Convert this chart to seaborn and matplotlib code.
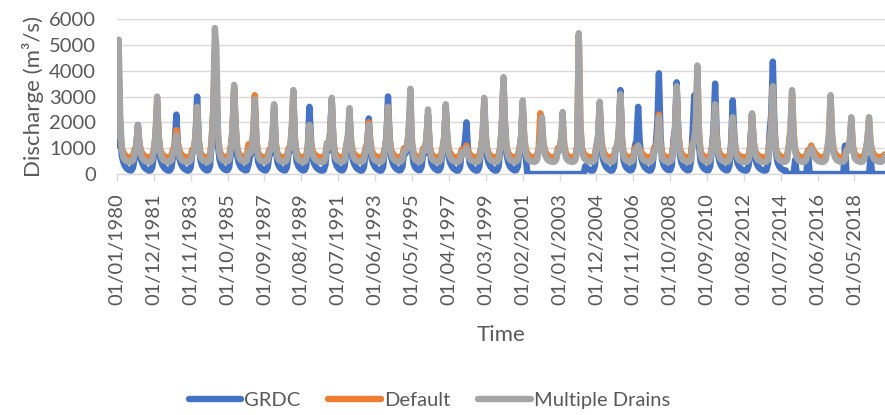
import matplotlib
matplotlib.use("Agg")
import matplotlib.pyplot as plt
import matplotlib.dates as mdates
from matplotlib.lines import Line2D
import numpy as np
import pandas as pd
import seaborn as sns

# Monthly discharge (m3/s), one row per year 1980-2019, Jan..Dec
start_year = 1980
series_names = ["GRDC", "Default", "Multiple Drains"]
series_colors = ["#4472C4", "#ED7D31", "#A5A5A5"]

grdc = [
    [1100, 3700, 1800, 700, 450, 300, 220, 170, 140, 140, 250, 600],
    [1000, 1900, 1100, 550, 380, 260, 200, 160, 130, 140, 260, 700],
    [1300, 2600, 1300, 600, 400, 280, 210, 160, 130, 140, 250, 700],
    [1200, 2300, 1200, 580, 390, 270, 200, 160, 130, 140, 260, 800],
    [900, 1500, 3000, 1300, 550, 330, 230, 170, 140, 150, 300, 1200],
    [2300, 4200, 3200, 1100, 550, 340, 240, 180, 150, 150, 270, 800],
    [1500, 3300, 1700, 700, 430, 290, 210, 170, 140, 150, 350, 700],
    [800, 1400, 2600, 1100, 480, 310, 220, 170, 140, 140, 260, 700],
    [800, 1400, 2650, 1100, 470, 300, 220, 170, 140, 140, 270, 800],
    [900, 1600, 3000, 1200, 500, 320, 230, 170, 140, 150, 280, 1000],
    [2600, 1300, 600, 400, 280, 210, 170, 140, 130, 150, 350, 1100],
    [900, 1600, 2900, 1200, 500, 320, 230, 170, 140, 150, 290, 900],
    [1200, 2300, 1100, 550, 380, 270, 200, 160, 130, 140, 270, 800],
    [1100, 2150, 1100, 550, 380, 270, 200, 160, 130, 140, 270, 900],
    [1400, 3000, 1500, 650, 420, 290, 210, 170, 140, 150, 280, 800],
    [800, 1000, 1600, 2200, 900, 400, 260, 190, 150, 150, 280, 800],
    [800, 1300, 2300, 1000, 450, 300, 220, 170, 140, 150, 280, 900],
    [1300, 2600, 1300, 600, 400, 280, 210, 160, 130, 140, 280, 900],
    [900, 1300, 2000, 900, 420, 290, 210, 160, 130, 140, 280, 900],
    [1400, 2700, 1300, 600, 400, 280, 210, 160, 130, 140, 280, 900],
    [1800, 3600, 1800, 750, 450, 300, 220, 170, 140, 150, 300, 900],
    [1400, 2700, 1300, 600, 0, 0, 0, 0, 0, 0, 0, 0],
    [0, 0, 0, 0, 0, 0, 0, 0, 0, 0, 0, 0],
    [0, 0, 0, 0, 0, 0, 0, 0, 0, 0, 0, 0],
    [0, 0, 0, 0, 300, 240, 190, 150, 130, 140, 300, 900],
    [1400, 2700, 1300, 600, 400, 280, 210, 160, 130, 140, 280, 1000],
    [1000, 1700, 3250, 1300, 520, 320, 230, 170, 140, 150, 300, 1100],
    [1300, 2600, 1300, 600, 400, 280, 210, 160, 130, 140, 300, 1000],
    [1100, 2000, 3900, 1500, 560, 340, 240, 180, 150, 150, 320, 1300],
    [1800, 3550, 1800, 750, 450, 300, 220, 170, 140, 160, 500, 1600],
    [3050, 1800, 2600, 1100, 480, 310, 220, 170, 140, 150, 300, 1000],
    [1700, 3500, 1700, 700, 440, 300, 220, 170, 140, 150, 320, 1200],
    [2850, 1500, 700, 420, 290, 210, 170, 140, 130, 150, 350, 1200],
    [2300, 1200, 600, 400, 280, 210, 170, 140, 130, 150, 400, 1600],
    [2300, 4350, 2000, 800, 450, 300, 220, 170, 140, 140, 0, 0],
    [0, 0, 0, 550, 0, 0, 0, 0, 0, 0, 0, 900],
    [0, 0, 0, 0, 0, 0, 0, 0, 0, 0, 0, 0],
    [0, 0, 0, 0, 0, 0, 0, 0, 0, 0, 1100, 0],
    [0, 0, 0, 0, 0, 0, 0, 0, 0, 0, 0, 0],
    [0, 0, 650, 0, 0, 0, 0, 0, 0, 0, 0, 0],
]

default = [
    [2000, 4300, 1600, 1000, 850, 720, 680, 650, 640, 650, 720, 950],
    [1100, 1800, 1200, 900, 780, 700, 670, 650, 640, 650, 720, 950],
    [1500, 2800, 1500, 950, 800, 710, 670, 650, 640, 650, 720, 950],
    [1100, 1700, 1200, 900, 780, 700, 670, 650, 640, 650, 720, 950],
    [950, 1500, 2600, 1300, 850, 720, 680, 650, 640, 650, 740, 1300],
    [2400, 4800, 3800, 1500, 900, 750, 690, 660, 650, 660, 740, 1100],
    [1700, 3300, 1900, 1000, 820, 720, 680, 650, 640, 700, 1150, 950],
    [1000, 1700, 3050, 1300, 850, 720, 680, 650, 640, 650, 720, 950],
    [950, 1500, 2500, 1200, 830, 710, 670, 650, 640, 650, 730, 1000],
    [1000, 1800, 3000, 1300, 850, 720, 680, 650, 640, 650, 740, 1050],
    [1900, 1200, 900, 780, 710, 680, 660, 650, 640, 660, 760, 1200],
    [1000, 1700, 2800, 1300, 840, 720, 680, 650, 640, 650, 740, 1100],
    [1400, 2200, 1300, 900, 780, 700, 670, 650, 640, 650, 740, 1000],
    [1200, 2000, 1300, 900, 780, 700, 670, 650, 640, 650, 740, 1000],
    [1400, 2600, 1400, 950, 800, 710, 670, 650, 640, 650, 740, 1000],
    [950, 1100, 1700, 2700, 1200, 820, 700, 670, 650, 650, 740, 1000],
    [950, 1400, 2200, 1100, 820, 710, 670, 650, 640, 650, 740, 1000],
    [1400, 2500, 1400, 950, 800, 710, 670, 650, 640, 650, 740, 950],
    [900, 950, 1100, 880, 780, 700, 670, 650, 640, 650, 740, 1000],
    [1500, 2700, 1500, 950, 800, 710, 670, 650, 640, 650, 740, 1050],
    [1800, 3500, 1900, 1000, 830, 720, 680, 650, 640, 650, 740, 1000],
    [1400, 2600, 1400, 950, 800, 710, 670, 650, 640, 650, 740, 1000],
    [2350, 1900, 1200, 900, 780, 700, 670, 650, 640, 650, 740, 1000],
    [950, 1400, 2000, 1100, 820, 710, 670, 650, 640, 650, 740, 1100],
    [5350, 1900, 1000, 820, 740, 690, 660, 650, 640, 650, 740, 1100],
    [1400, 2600, 1400, 950, 800, 710, 670, 650, 640, 650, 740, 1000],
    [1000, 1700, 3000, 1300, 840, 720, 680, 650, 640, 650, 740, 1000],
    [950, 1100, 950, 850, 770, 700, 670, 650, 640, 650, 740, 1000],
    [950, 1400, 2300, 1100, 820, 710, 670, 650, 640, 650, 740, 1100],
    [1700, 3300, 1700, 1000, 820, 720, 680, 650, 640, 650, 760, 1200],
    [1300, 2000, 4000, 1600, 900, 740, 690, 660, 650, 650, 740, 1000],
    [1400, 2600, 1400, 950, 800, 710, 670, 650, 640, 650, 740, 1000],
    [2100, 1300, 900, 780, 710, 680, 660, 650, 640, 650, 760, 1100],
    [2300, 1300, 900, 780, 710, 680, 660, 650, 640, 650, 760, 1300],
    [1800, 3300, 1700, 1000, 820, 720, 680, 650, 640, 650, 760, 1100],
    [1700, 3100, 1600, 950, 800, 710, 670, 650, 640, 650, 740, 900],
    [950, 1100, 950, 850, 770, 700, 670, 650, 640, 650, 740, 950],
    [1500, 2900, 1500, 950, 800, 710, 670, 650, 640, 650, 740, 950],
    [950, 1300, 2100, 1100, 820, 710, 670, 650, 640, 650, 740, 950],
    [1300, 2100, 1200, 900, 780, 700, 670, 650, 640, 660, 720, 760],
]

multiple_drains = [
    [1500, 5200, 2300, 1000, 650, 540, 500, 480, 470, 480, 540, 800],
    [1100, 1900, 1200, 750, 600, 520, 490, 470, 460, 470, 560, 900],
    [1500, 3000, 1500, 850, 620, 530, 500, 480, 470, 480, 540, 800],
    [1000, 1500, 1100, 700, 580, 520, 490, 470, 460, 470, 540, 800],
    [900, 1400, 2600, 1300, 700, 560, 510, 490, 470, 480, 560, 1200],
    [2600, 5650, 4900, 1600, 800, 600, 540, 510, 490, 500, 560, 1000],
    [1700, 3450, 2000, 1000, 680, 560, 510, 490, 470, 520, 900, 800],
    [900, 1600, 2900, 1300, 700, 560, 510, 490, 470, 480, 540, 850],
    [950, 1500, 2700, 1200, 680, 550, 500, 480, 470, 480, 560, 900],
    [1000, 1800, 3250, 1400, 720, 570, 510, 490, 470, 480, 560, 1000],
    [1900, 1100, 750, 620, 540, 500, 480, 470, 460, 480, 600, 1200],
    [1000, 1700, 2950, 1300, 700, 560, 510, 490, 470, 480, 560, 1100],
    [1500, 2550, 1300, 750, 600, 530, 500, 480, 470, 480, 560, 900],
    [1100, 1900, 1200, 750, 600, 530, 500, 480, 460, 480, 560, 900],
    [1400, 2600, 1400, 800, 620, 540, 500, 480, 470, 480, 560, 900],
    [900, 1000, 1800, 3300, 1300, 700, 560, 510, 480, 480, 560, 900],
    [900, 1400, 2500, 1100, 650, 540, 500, 480, 470, 480, 560, 900],
    [1400, 2700, 1400, 800, 620, 540, 500, 480, 470, 480, 560, 850],
    [750, 850, 1000, 750, 600, 530, 500, 480, 470, 480, 560, 900],
    [1500, 2950, 1500, 850, 640, 550, 500, 480, 470, 480, 560, 1000],
    [1900, 3750, 2000, 950, 680, 560, 510, 490, 470, 480, 560, 900],
    [1500, 2850, 1400, 800, 620, 540, 500, 480, 470, 480, 560, 900],
    [1400, 2200, 1200, 750, 600, 530, 500, 480, 470, 480, 560, 900],
    [900, 1400, 2400, 1000, 640, 540, 500, 480, 470, 480, 560, 1000],
    [5450, 1800, 900, 650, 560, 520, 490, 480, 470, 480, 560, 1100],
    [1500, 2800, 1400, 800, 620, 540, 500, 480, 470, 480, 560, 1000],
    [1000, 1700, 3100, 1300, 700, 560, 510, 490, 470, 480, 560, 900],
    [900, 1100, 900, 700, 580, 520, 490, 470, 460, 480, 560, 900],
    [900, 1300, 2200, 1000, 640, 540, 500, 480, 470, 480, 560, 1000],
    [1700, 3400, 1700, 900, 660, 550, 510, 490, 470, 480, 560, 1100],
    [1300, 2000, 4200, 1600, 760, 580, 520, 490, 470, 480, 560, 950],
    [1400, 2700, 1400, 800, 620, 540, 500, 480, 470, 480, 560, 950],
    [2200, 1300, 800, 620, 540, 500, 480, 470, 460, 480, 560, 1000],
    [2350, 1300, 800, 620, 540, 500, 480, 470, 460, 480, 560, 1200],
    [1800, 3400, 1700, 900, 660, 550, 510, 490, 470, 480, 560, 1100],
    [1700, 3250, 1600, 850, 640, 540, 500, 480, 470, 480, 560, 800],
    [850, 1000, 850, 680, 580, 520, 490, 470, 460, 480, 560, 900],
    [1500, 3050, 1500, 800, 620, 540, 500, 480, 470, 480, 560, 900],
    [900, 1300, 2200, 1000, 640, 540, 500, 480, 470, 480, 560, 900],
    [1300, 2200, 1200, 750, 600, 530, 500, 480, 470, 480, 560, 700],
]

y_ticks = [0, 1000, 2000, 3000, 4000, 5000, 6000]

# ---- assemble long-form table ----
n_months = 12 * len(grdc)
dates = pd.date_range(f"{start_year}-01-01", periods=n_months, freq="MS")
frames = []
for name, rows in zip(series_names, [grdc, default, multiple_drains]):
    frames.append(pd.DataFrame({
        "Time": dates,
        "Discharge": np.array(rows, dtype=float).ravel(),
        "Series": name,
    }))
df = pd.concat(frames, ignore_index=True)

# ---- style ----
sns.set_theme(style="white")
plt.rcParams["font.family"] = ["Lato", "DejaVu Sans"]
text_color = "#595959"
grid_color = "#D9D9D9"

fig = plt.figure(figsize=(8.85, 4.15), dpi=100)
ax = fig.add_axes([117 / 885, 1 - 174 / 415, (885 - 117) / 885, (174 - 19) / 415])

sns.lineplot(
    data=df, x="Time", y="Discharge", hue="Series",
    hue_order=series_names, palette=series_colors,
    linewidth=4.6, errorbar=None, ax=ax, legend=False,
    solid_joinstyle="round", solid_capstyle="round",
)

ax.set_xlim(dates[0], dates[-1])
ax.set_ylim(0, 6000)
ax.set_yticks(y_ticks)
ax.set_yticklabels([str(v) for v in y_ticks])

tick_dates = pd.date_range(dates[0], dates[-1], freq="23MS")
ax.set_xticks(tick_dates)
ax.xaxis.set_major_formatter(mdates.DateFormatter("%d/%m/%Y"))

for s in ["top", "right", "left"]:
    ax.spines[s].set_visible(False)
ax.spines["bottom"].set_color(grid_color)
ax.spines["bottom"].set_linewidth(1.0)
ax.spines["bottom"].set_zorder(0.5)

ax.grid(axis="y", color=grid_color, linewidth=1.0)
ax.grid(axis="x", visible=False)
ax.set_axisbelow(True)

ax.tick_params(axis="y", length=0, labelsize=14.5, labelcolor=text_color, pad=15)
ax.tick_params(axis="x", which="major", direction="out", length=5, width=1,
               color=grid_color, labelsize=14.5, labelcolor=text_color,
               labelrotation=90, pad=9, bottom=True)

ax.set_ylabel("Discharge (m³/s)", fontsize=16, color=text_color, labelpad=4)
ax.set_xlabel("Time", fontsize=16, color=text_color, labelpad=14)

handles = [Line2D([0], [0], color=c, linewidth=4.6, solid_capstyle="round")
           for c in series_colors]
fig.legend(handles, series_names, loc="center", bbox_to_anchor=(0.485, 0.036),
           ncol=3, frameon=False, fontsize=14.5, labelcolor=text_color,
           handlelength=2.6, handletextpad=0.15, columnspacing=1.4)

fig.savefig("out.png", dpi=100)
